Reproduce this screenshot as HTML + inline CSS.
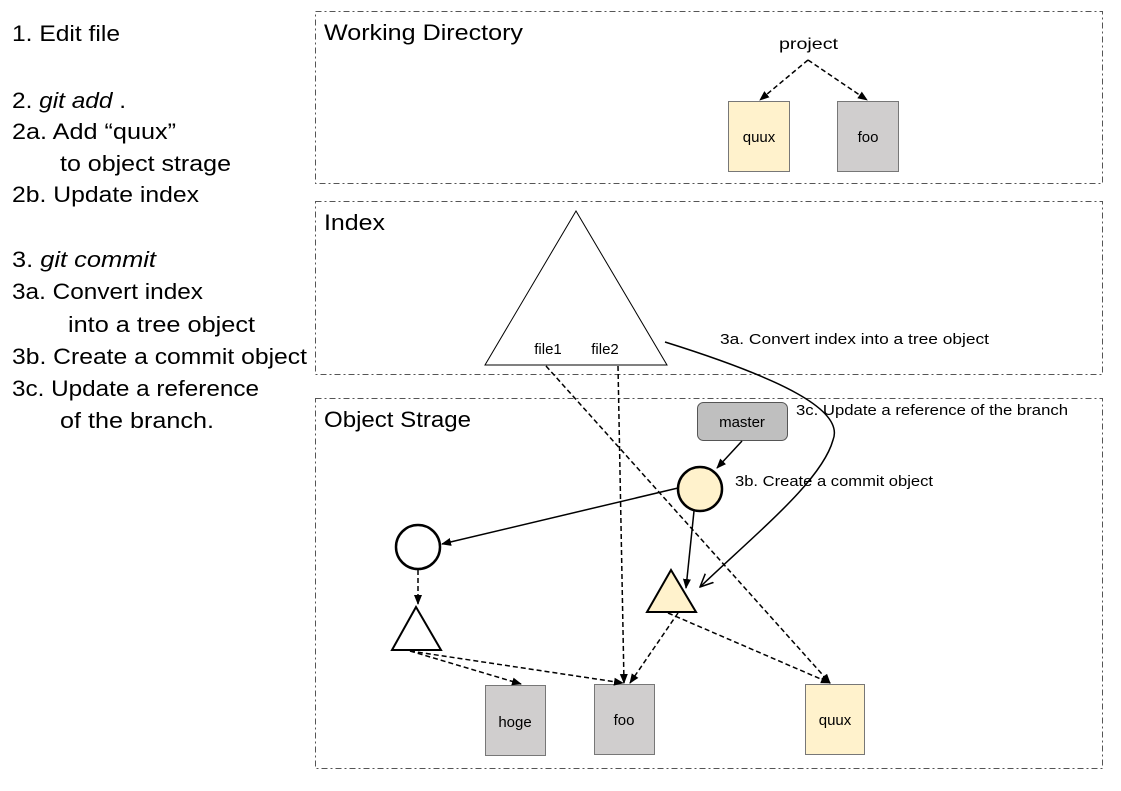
<!DOCTYPE html>
<html><head><meta charset="utf-8"><style>
html,body{margin:0;padding:0;background:#fff;}
svg{display:block;font-family:"Liberation Sans",sans-serif;}
</style></head><body>
<svg width="1121" height="791" viewBox="0 0 1121 791" xmlns="http://www.w3.org/2000/svg">
<defs>
<marker id="a" markerWidth="10" markerHeight="10" refX="9" refY="5" orient="auto" markerUnits="userSpaceOnUse"><path d="M0,1 L10,5 L0,9 z" fill="#000"/></marker>
<marker id="o" markerWidth="14" markerHeight="14" refX="13" refY="7" orient="auto" markerUnits="userSpaceOnUse"><path d="M0,1 L13,7 L0,13" fill="none" stroke="#000" stroke-width="1.5"/></marker>
</defs>
<g font-size="22" fill="#000" lengthAdjust="spacingAndGlyphs">
<text x="12" y="41" textLength="108" lengthAdjust="spacingAndGlyphs">1. Edit file</text>
<text x="12" y="108" textLength="114" lengthAdjust="spacingAndGlyphs">2. <tspan font-style="italic">git add</tspan> .</text>
<text x="12" y="139" textLength="164" lengthAdjust="spacingAndGlyphs">2a. Add “quux”</text>
<text x="60" y="171" textLength="171" lengthAdjust="spacingAndGlyphs">to object strage</text>
<text x="12" y="202" textLength="187" lengthAdjust="spacingAndGlyphs">2b. Update index</text>
<text x="12" y="267" textLength="144" lengthAdjust="spacingAndGlyphs">3. <tspan font-style="italic">git commit</tspan></text>
<text x="12" y="299" textLength="191" lengthAdjust="spacingAndGlyphs">3a. Convert index</text>
<text x="68" y="332" textLength="187" lengthAdjust="spacingAndGlyphs">into a tree object</text>
<text x="12" y="364" textLength="295" lengthAdjust="spacingAndGlyphs">3b. Create a commit object</text>
<text x="12" y="396" textLength="247" lengthAdjust="spacingAndGlyphs">3c. Update a reference</text>
<text x="60" y="428" textLength="154" lengthAdjust="spacingAndGlyphs">of the branch.</text>
</g>
<g fill="none" stroke="#555" stroke-width="1" stroke-dasharray="6,3,2,3">
<rect x="315.5" y="11.5" width="787" height="172"/>
<rect x="315.5" y="201.5" width="787" height="173"/>
<rect x="315.5" y="398.5" width="787" height="370"/>
</g>
<g font-size="22">
<text x="324" y="40" textLength="199" lengthAdjust="spacingAndGlyphs">Working Directory</text>
<text x="324" y="230" textLength="61" lengthAdjust="spacingAndGlyphs">Index</text>
<text x="324" y="427" textLength="147" lengthAdjust="spacingAndGlyphs">Object Strage</text>
</g>
<!-- working dir -->
<text x="779" y="49" font-size="16" textLength="59" lengthAdjust="spacingAndGlyphs">project</text>
<g stroke="#000" stroke-width="1.5" stroke-dasharray="5,3" fill="none">
<line x1="808" y1="60" x2="760" y2="100" marker-end="url(#a)"/>
<line x1="808" y1="60" x2="867" y2="100" marker-end="url(#a)"/>
</g>
<rect x="728.5" y="101.5" width="61" height="70" fill="#fff2cc" stroke="#777"/>
<text x="759" y="142" font-size="15" text-anchor="middle">quux</text>
<rect x="837.5" y="101.5" width="61" height="70" fill="#d0cece" stroke="#777"/>
<text x="868" y="142" font-size="15" text-anchor="middle">foo</text>
<!-- index -->
<polygon points="576,211 485,365 667,365" fill="#fff" stroke="#000" stroke-width="1"/>
<text x="548" y="354" font-size="15" text-anchor="middle">file1</text>
<text x="605" y="354" font-size="15" text-anchor="middle">file2</text>
<text x="720" y="344" font-size="15" textLength="269" lengthAdjust="spacingAndGlyphs">3a. Convert index into a tree object</text>
<!-- object storage -->
<rect x="697.5" y="402.5" width="90" height="38" rx="6" fill="#bfbfbf" stroke="#555"/>
<text x="742" y="427" font-size="15" text-anchor="middle">master</text>
<text x="796" y="415" font-size="15" textLength="272" lengthAdjust="spacingAndGlyphs">3c.  Update a reference of the branch</text>
<text x="735" y="486" font-size="15" textLength="198" lengthAdjust="spacingAndGlyphs">3b. Create a commit object</text>
<rect x="485.5" y="685.5" width="60" height="70" fill="#d0cece" stroke="#777"/>
<text x="515" y="727" font-size="15" text-anchor="middle">hoge</text>
<rect x="594.5" y="684.5" width="60" height="70" fill="#d0cece" stroke="#777"/>
<text x="624" y="725" font-size="15" text-anchor="middle">foo</text>
<rect x="805.5" y="684.5" width="59" height="70" fill="#fff2cc" stroke="#777"/>
<text x="835" y="725" font-size="15" text-anchor="middle">quux</text>
<g stroke="#000" stroke-width="1.5" stroke-dasharray="5,3" fill="none">
<line x1="546" y1="366" x2="830" y2="683" marker-end="url(#a)"/>
<line x1="618" y1="366" x2="624" y2="683" marker-end="url(#a)"/>
<line x1="418" y1="570" x2="418" y2="604" marker-end="url(#a)"/>
<line x1="410" y1="651" x2="521" y2="684" marker-end="url(#a)"/>
<line x1="410" y1="651" x2="623" y2="683" marker-end="url(#a)"/>
<line x1="678" y1="613" x2="630" y2="683" marker-end="url(#a)"/>
<line x1="668" y1="613" x2="830" y2="683" marker-end="url(#a)"/>
</g>
<g stroke="#000" stroke-width="1.5" fill="none">
<line x1="742" y1="441" x2="717" y2="468" marker-end="url(#a)"/>
<line x1="678" y1="488" x2="442" y2="544" marker-end="url(#a)"/>
<line x1="694" y1="511" x2="686" y2="588" marker-end="url(#a)"/>
<path d="M665,342 C780,378 845,410 833,440 C822,480 760,530 700,587" marker-end="url(#o)"/>
</g>
<circle cx="700" cy="489" r="22" fill="#fff2cc" stroke="#000" stroke-width="2.5"/>
<circle cx="418" cy="547" r="22" fill="#fff" stroke="#000" stroke-width="2.5"/>
<polygon points="416,607 392,650 441,650" fill="#fff" stroke="#000" stroke-width="2"/>
<polygon points="671,570 647,612 696,612" fill="#fff2cc" stroke="#000" stroke-width="2"/>
</svg>
</body></html>
